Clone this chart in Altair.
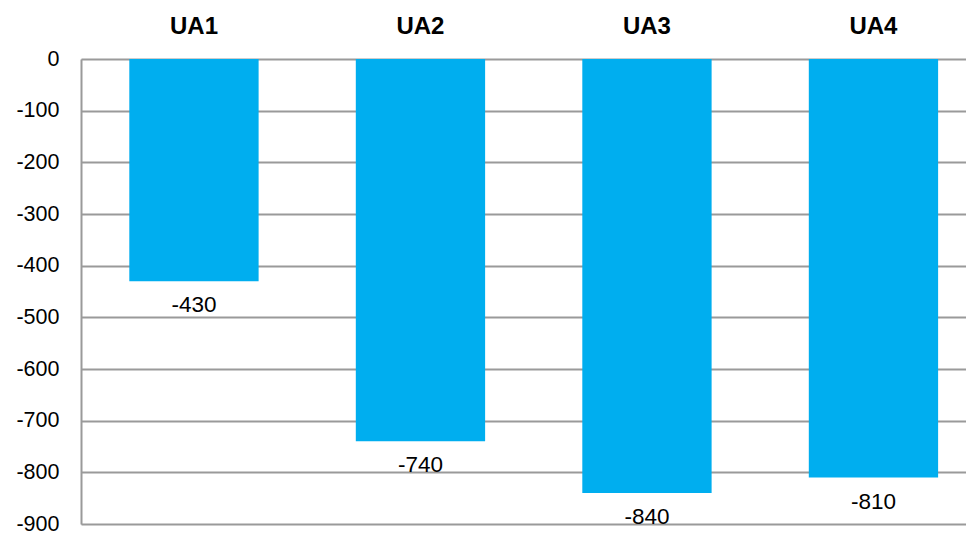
import altair as alt
import pandas as pd

categories = ["UA1", "UA2", "UA3", "UA4"]
values = [-430, -740, -840, -810]
value_labels = ["-430", "-740", "-840", "-810"]
tick_values = [-900, -800, -700, -600, -500, -400, -300, -200, -100, 0]

df = pd.DataFrame({"cat": categories, "value": values, "label": value_labels})

FONT = "Liberation Sans"

x = alt.X(
    "cat:N",
    sort=categories,
    title=None,
    scale=alt.Scale(paddingInner=0.4291, paddingOuter=0.1682, align=0.634),
    axis=alt.Axis(
        orient="top",
        labelAngle=0,
        labelFont=FONT,
        labelFontSize=24,
        labelFontWeight="bold",
        labelColor="black",
        labelPadding=21,
        ticks=False,
        domain=False,
    ),
)
y = alt.Y(
    "value:Q",
    title=None,
    scale=alt.Scale(domain=[-900, 0], nice=False),
    axis=alt.Axis(
        values=tick_values,
        labelExpr="toString(datum.value)",
        grid=True,
        gridColor="#9a9a9a",
        gridWidth=2,
        domainColor="#9a9a9a",
        domainWidth=2,
        ticks=False,
        labelFont=FONT,
        labelFontSize=21.5,
        labelColor="black",
        labelPadding=22,
    ),
)

bars = alt.Chart(df).mark_bar(color="#00AEEF").encode(x=x, y=y)
labels = alt.Chart(df).mark_text(
    baseline="middle", dy=24, fontSize=22.5, font=FONT, color="black"
).encode(x=alt.X("cat:N", sort=categories), y=alt.Y("value:Q"), text=alt.Text("label:N"))

chart = (
    alt.layer(bars, labels)
    .properties(
        width=885,
        height=465,
        padding={"left": 73, "top": 51, "right": 0, "bottom": 10},
        autosize="none",
    )
    .configure_view(stroke=None)
    .configure(background="white")
)

chart.save("out.html", embed_options={"renderer": "svg", "actions": False})
